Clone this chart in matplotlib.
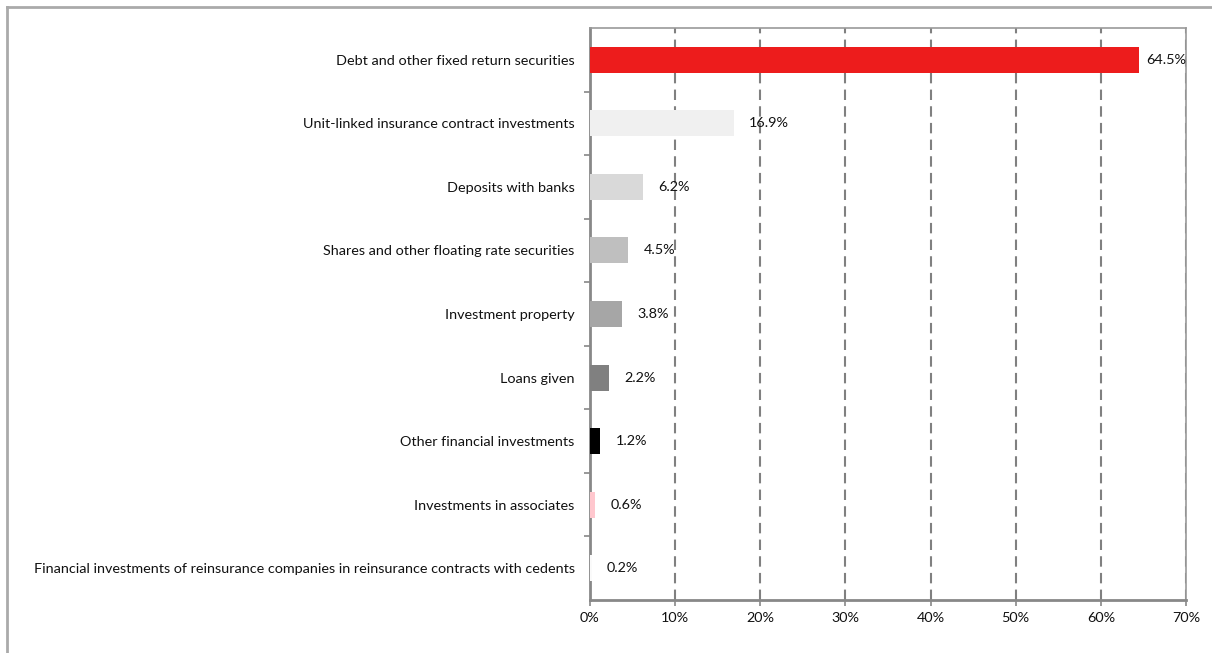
import numpy as np
import matplotlib.pyplot as plt
from matplotlib.lines import Line2D
from matplotlib.ticker import FixedLocator, PercentFormatter

plt.rcParams['font.family'] = ['Lato', 'DejaVu Sans']

categories = [
    'Debt and other fixed return securities',
    'Unit-linked insurance contract investments',
    'Deposits with banks',
    'Shares and other floating rate securities',
    'Investment property',
    'Loans given',
    'Other financial investments',
    'Investments in associates',
    'Financial investments of reinsurance companies in reinsurance contracts with cedents',
]
shares = [64.5, 16.9, 6.2, 4.5, 3.8, 2.2, 1.2, 0.6, 0.2]
colors = ['#ED1C1C', '#F0F0F0', '#D9D9D9', '#BFBFBF', '#A6A6A6',
          '#808080', '#000000', '#FFC7CE', '#FAFAFA']

fig = plt.figure(figsize=(12.12, 6.53), dpi=100)
ax = fig.add_axes([590 / 1212, 1 - 600 / 653, (1186 - 590) / 1212, (600 - 28) / 653])

y = np.arange(len(categories))
ax.barh(y, shares, height=0.41, color=colors, zorder=3)
ax.set_xlim(0, 70)
ax.set_ylim(len(categories) - 0.5, -0.5)

# value labels, kept inside the plot box
for yi, v in zip(y, shares):
    if v > 60:
        ax.annotate(f'{v:.1f}%', xy=(70, yi), xytext=(0, 0),
                    textcoords='offset points', ha='right', va='center',
                    fontsize=10.4, color='#111111', zorder=4)
    else:
        ax.annotate(f'{v:.1f}%', xy=(v, yi), xytext=(11, 0),
                    textcoords='offset points', ha='left', va='center',
                    fontsize=10.4, color='#111111', zorder=4)

ax.set_yticks(y)
ax.set_yticklabels(categories, fontsize=10.4, color='#111111')
ax.tick_params(axis='y', length=0, pad=11)
ax.yaxis.set_minor_locator(FixedLocator(np.arange(0.5, len(categories) - 1, 1)))
ax.tick_params(axis='y', which='minor', length=4, width=1.2, color='#888888')

ax.set_xticks(np.arange(0, 71, 10))
ax.xaxis.set_major_formatter(PercentFormatter(decimals=0))
ax.tick_params(axis='x', length=4, width=1.2, color='#888888', labelsize=10.4,
               labelcolor='#111111', pad=5)

ax.grid(axis='x', color='#808080', linestyle=(0, (5, 3)), linewidth=1.5, zorder=0)
for s in ['top', 'right']:
    ax.spines[s].set_color('#999999')
    ax.spines[s].set_linewidth(1.2)
for s in ['left', 'bottom']:
    ax.spines[s].set_color('#888888')
    ax.spines[s].set_linewidth(2)

# outer frame lines of the chart area
fig.add_artist(Line2D([7 / 1212, 1], [1 - 7 / 653, 1 - 7 / 653],
                      transform=fig.transFigure, color='#AAAAAA', linewidth=2))
fig.add_artist(Line2D([7 / 1212, 7 / 1212], [0, 1 - 7 / 653],
                      transform=fig.transFigure, color='#AAAAAA', linewidth=2))

fig.savefig('out.png', dpi=100)
